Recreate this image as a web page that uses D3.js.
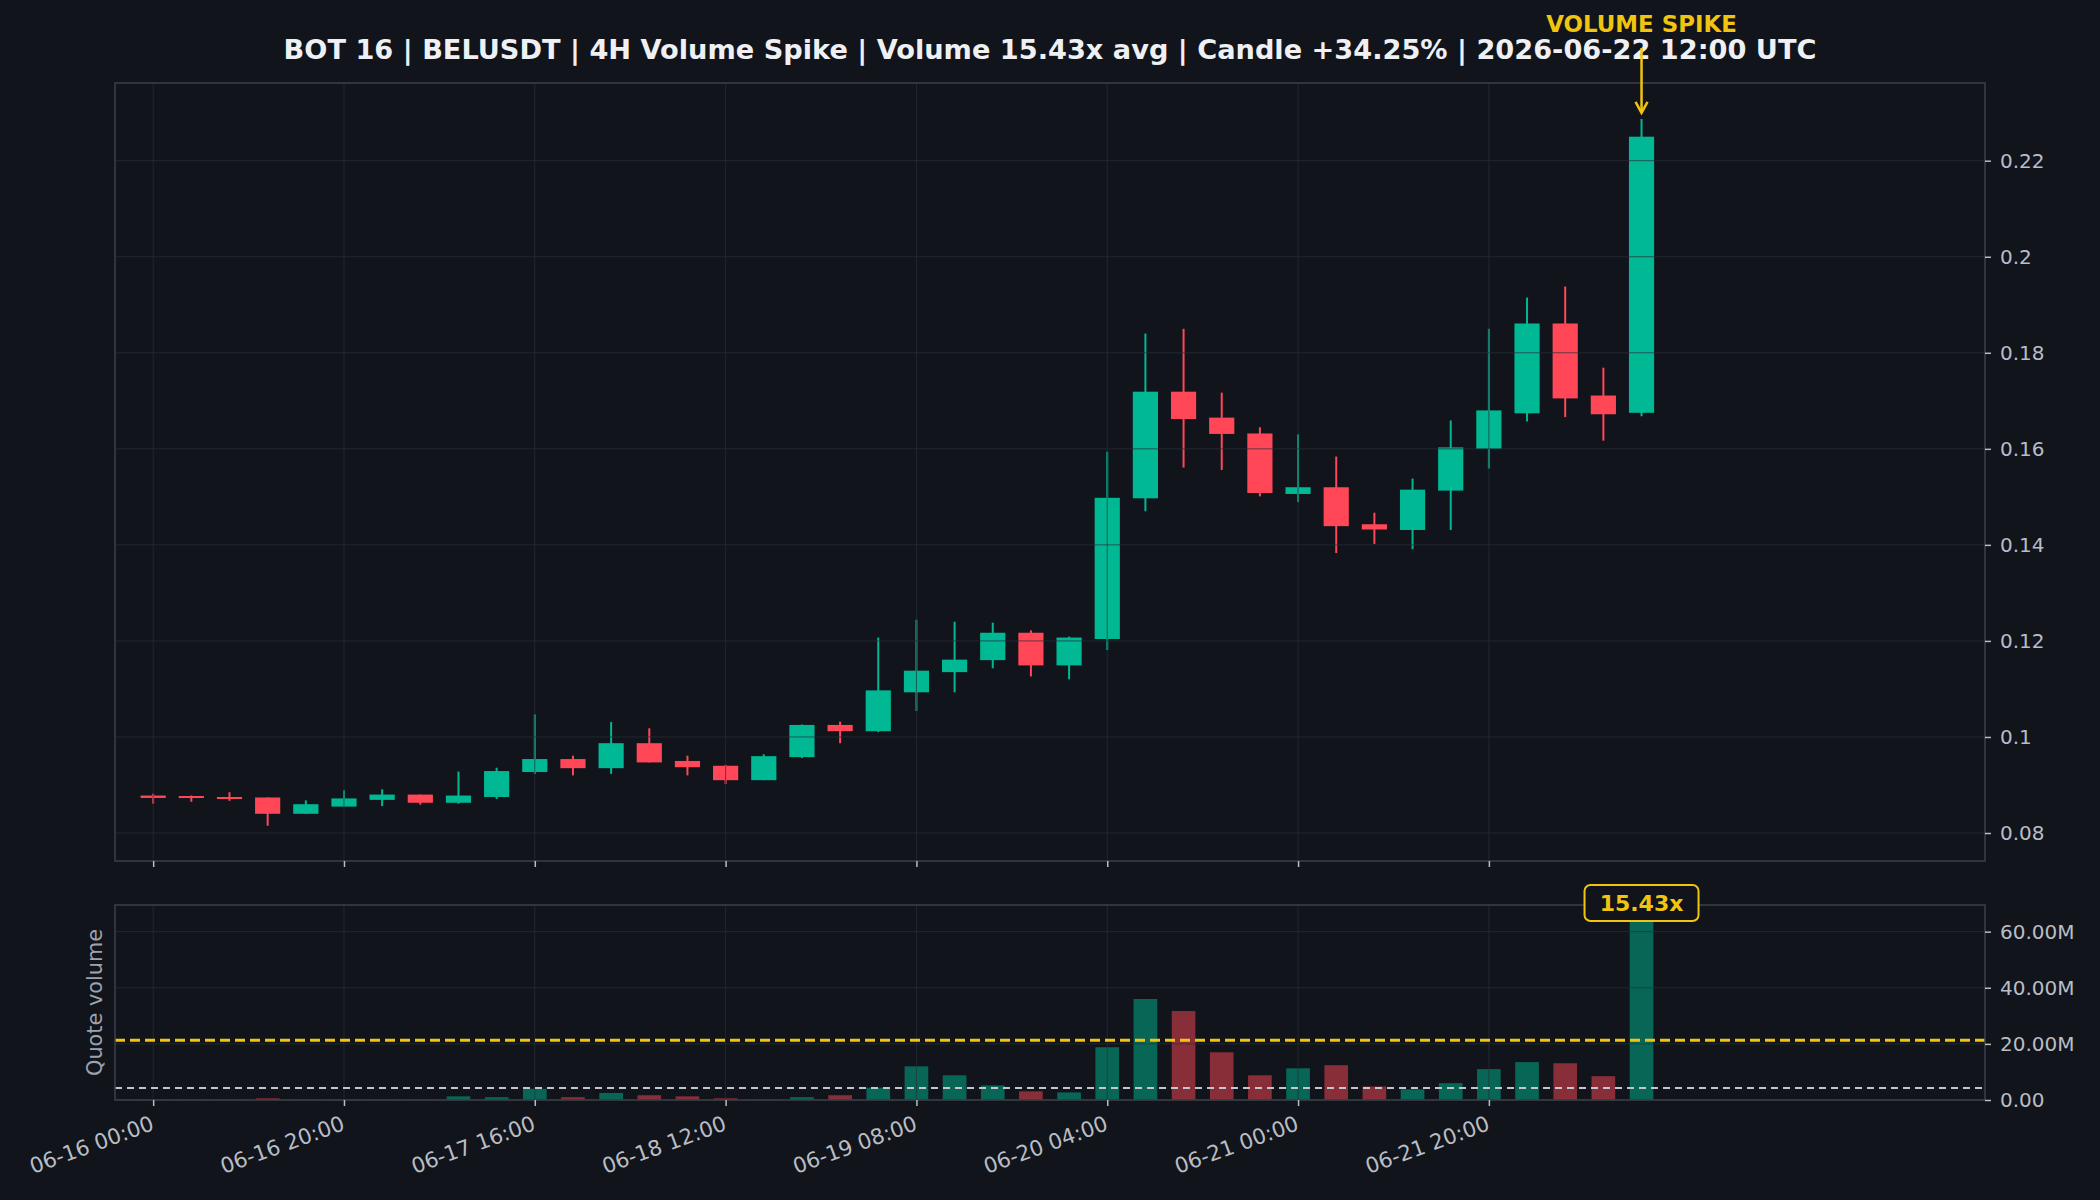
<!DOCTYPE html>
<html>
<head>
<meta charset="utf-8">
<script src="https://cdn.jsdelivr.net/npm/d3@7"></script>
<style>
  body { margin: 0; background: #11141b; }
  svg { display: block; }
  text { font-family: "DejaVu Sans", sans-serif; }
</style>
</head>
<body>
<svg id="chart" width="2100" height="1200"></svg>
<script>
// 4h candles, BELUSDT
var times = [
  "2026-06-16 00:00", "2026-06-16 04:00", "2026-06-16 08:00", "2026-06-16 12:00", "2026-06-16 16:00", "2026-06-16 20:00",
  "2026-06-17 00:00", "2026-06-17 04:00", "2026-06-17 08:00", "2026-06-17 12:00", "2026-06-17 16:00", "2026-06-17 20:00",
  "2026-06-18 00:00", "2026-06-18 04:00", "2026-06-18 08:00", "2026-06-18 12:00", "2026-06-18 16:00", "2026-06-18 20:00",
  "2026-06-19 00:00", "2026-06-19 04:00", "2026-06-19 08:00", "2026-06-19 12:00", "2026-06-19 16:00", "2026-06-19 20:00",
  "2026-06-20 00:00", "2026-06-20 04:00", "2026-06-20 08:00", "2026-06-20 12:00", "2026-06-20 16:00", "2026-06-20 20:00",
  "2026-06-21 00:00", "2026-06-21 04:00", "2026-06-21 08:00", "2026-06-21 12:00", "2026-06-21 16:00", "2026-06-21 20:00",
  "2026-06-22 00:00", "2026-06-22 04:00", "2026-06-22 08:00", "2026-06-22 12:00"
];
var open = [
  0.0878, 0.0877, 0.0875, 0.0874, 0.0840, 0.0855, 0.0869, 0.0880, 0.0863, 0.0875,
  0.0927, 0.0954, 0.0935, 0.0987, 0.0950, 0.0940, 0.0910, 0.0958, 0.1025, 0.1012,
  0.1093, 0.1135, 0.1160, 0.1217, 0.1149, 0.1204, 0.1497, 0.1719, 0.1665, 0.1632,
  0.1506, 0.1520, 0.1443, 0.1431, 0.1513, 0.1600, 0.1674, 0.1861, 0.1711, 0.1675
];
var high = [
  0.0882, 0.0878, 0.0885, 0.0874, 0.0868, 0.0889, 0.0891, 0.0880, 0.0928, 0.0936,
  0.1047, 0.0961, 0.1031, 0.1018, 0.0961, 0.0942, 0.0964, 0.1026, 0.1032, 0.1207,
  0.1244, 0.1240, 0.1238, 0.1222, 0.1209, 0.1594, 0.1840, 0.1850, 0.1717, 0.1645,
  0.1630, 0.1584, 0.1467, 0.1538, 0.1659, 0.1850, 0.1915, 0.1938, 0.1769, 0.2287
];
var low = [
  0.0861, 0.0865, 0.0867, 0.0815, 0.0840, 0.0855, 0.0856, 0.0859, 0.0861, 0.0871,
  0.0923, 0.0920, 0.0923, 0.0947, 0.0920, 0.0902, 0.0910, 0.0956, 0.0987, 0.1010,
  0.1054, 0.1093, 0.1143, 0.1126, 0.1120, 0.1181, 0.1470, 0.1561, 0.1556, 0.1501,
  0.1489, 0.1383, 0.1402, 0.1391, 0.1431, 0.1559, 0.1657, 0.1666, 0.1617, 0.1668
];
var close = [
  0.0873, 0.0873, 0.0871, 0.0840, 0.0860, 0.0872, 0.0880, 0.0863, 0.0878, 0.0929,
  0.0954, 0.0935, 0.0987, 0.0947, 0.0937, 0.0910, 0.0960, 0.1025, 0.1012, 0.1097,
  0.1138, 0.1161, 0.1217, 0.1149, 0.1207, 0.1498, 0.1719, 0.1662, 0.1631, 0.1508,
  0.1520, 0.1439, 0.1432, 0.1515, 0.1603, 0.1680, 0.1861, 0.1705, 0.1672, 0.2250
];
// quote volume, millions
var volume = [
  0.12, 0.10, 0.15, 0.6, 0.1, 0.1, 0.1, 0.1, 1.3, 1.0,
  4.0, 1.0, 2.5, 1.7, 1.3, 0.6, 0.15, 1.0, 1.7, 4.4,
  12.0, 8.8, 5.2, 3.1, 2.7, 18.8, 36.0, 31.7, 17.0, 8.8,
  11.3, 12.4, 4.8, 3.8, 6.0, 11.0, 13.5, 13.1, 8.5, 65.6
];
var avgVolume = 4.26;       // grey dashed line
var thresholdVolume = 21.3; // yellow dashed line
var spikeMultiple = "15.43x";
var xTickLabels = ["06-16 00:00", "06-16 20:00", "06-17 16:00", "06-18 12:00",
                   "06-19 08:00", "06-20 04:00", "06-21 00:00", "06-21 20:00"];
var title = "BOT 16 | BELUSDT | 4H Volume Spike | Volume 15.43x avg | Candle +34.25% | 2026-06-22 12:00 UTC";

var GREEN = "#00b894", RED = "#ff4757", YELLOW = "#f1c40f";
var BG = "#11141b", GRID = "#2a2f38", SPINE = "#3b3f48", TICK = "#b9bdc4";

var parse = d3.utcParse("%Y-%m-%d %H:%M");
var candles = times.map(function(t, i) {
  return { time: parse(t), o: open[i], h: high[i], l: low[i], c: close[i], v: volume[i] };
});
var last = candles[candles.length - 1];

var left = 115, right = 1985;
var main = { top: 83, bottom: 861 };
var vol = { top: 905, bottom: 1100 };

var svg = d3.select("#chart");
svg.append("rect").attr("width", 2100).attr("height", 1200).attr("fill", BG);

var x = d3.scaleUtc()
  .domain([parse("2026-06-15 20:00"), parse("2026-06-24 00:00")])
  .range([left, right]);
var step = x(candles[1].time) - x(candles[0].time);

var y = d3.scaleLinear().domain([0.07417, 0.23618]).range([main.bottom, main.top]);
var yv = d3.scaleLinear().domain([0, 69.5]).range([vol.bottom, vol.top]);

var fmtTime = d3.utcFormat("%m-%d %H:%M");
var tickTimes = candles.map(function(d) { return d.time; })
  .filter(function(t) { return xTickLabels.indexOf(fmtTime(t)) >= 0; });

function drawGrid(g, yScale, yTicks, top, bottom) {
  g.selectAll(".gx").data(tickTimes).enter().append("line")
    .attr("x1", function(d) { return x(d); }).attr("x2", function(d) { return x(d); })
    .attr("y1", top).attr("y2", bottom)
    .attr("stroke", GRID).attr("stroke-opacity", 0.7);
  g.selectAll(".gy").data(yTicks).enter().append("line")
    .attr("x1", left).attr("x2", right)
    .attr("y1", function(d) { return yScale(d); }).attr("y2", function(d) { return yScale(d); })
    .attr("stroke", GRID).attr("stroke-opacity", 0.7);
}

function drawFrame(top, bottom) {
  svg.append("rect")
    .attr("x", left).attr("y", top).attr("width", right - left).attr("height", bottom - top)
    .attr("fill", "none").attr("stroke", SPINE).attr("stroke-width", 1.5);
}

function styleAxis(g) {
  g.select(".domain").remove();
  g.selectAll(".tick line").attr("stroke", TICK).attr("stroke-width", 1.5);
  g.selectAll(".tick text").attr("fill", TICK).attr("font-size", 20)
    .attr("font-family", "DejaVu Sans");
}

// ---- price panel ----
var priceTicks = y.ticks(8);
var gCandles = svg.append("g");
var bw = step * 0.66;

gCandles.selectAll(".wick").data(candles).enter().append("line")
  .attr("x1", function(d) { return x(d.time); }).attr("x2", function(d) { return x(d.time); })
  .attr("y1", function(d) { return y(d.h); }).attr("y2", function(d) { return y(d.l); })
  .attr("stroke", function(d) { return d.c >= d.o ? GREEN : RED; })
  .attr("stroke-width", 2);

gCandles.selectAll(".body").data(candles).enter().append("rect")
  .attr("x", function(d) { return x(d.time) - bw / 2; })
  .attr("width", bw)
  .attr("y", function(d) { return y(Math.max(d.o, d.c)); })
  .attr("height", function(d) { return Math.max(2, Math.abs(y(d.o) - y(d.c))); })
  .attr("fill", function(d) { return d.c >= d.o ? GREEN : RED; });

drawGrid(svg.append("g"), y, priceTicks, main.top, main.bottom);
drawFrame(main.top, main.bottom);

svg.append("g").attr("transform", "translate(" + right + ",0)")
  .call(d3.axisRight(y).tickValues(priceTicks).tickSize(6).tickPadding(9).tickFormat(d3.format("~g")))
  .call(styleAxis);

svg.append("g").attr("transform", "translate(0," + main.bottom + ")")
  .call(d3.axisBottom(x).tickValues(tickTimes).tickSize(6).tickFormat(""))
  .call(styleAxis);

// ---- volume panel ----
var volTicks = [0, 20, 40, 60];
var vbw = step * 0.62;
svg.append("g").selectAll("rect").data(candles).enter().append("rect")
  .attr("x", function(d) { return x(d.time) - vbw / 2; })
  .attr("width", vbw)
  .attr("y", function(d) { return yv(d.v); })
  .attr("height", function(d) { return yv(0) - yv(d.v); })
  .attr("fill", function(d) { return d.c >= d.o ? GREEN : RED; })
  .attr("fill-opacity", 0.5);

drawGrid(svg.append("g"), yv, volTicks, vol.top, vol.bottom);

svg.append("line")
  .attr("x1", left).attr("x2", right)
  .attr("y1", yv(thresholdVolume)).attr("y2", yv(thresholdVolume))
  .attr("stroke", YELLOW).attr("stroke-width", 3).attr("stroke-dasharray", "10,5");
svg.append("line")
  .attr("x1", left).attr("x2", right)
  .attr("y1", yv(avgVolume)).attr("y2", yv(avgVolume))
  .attr("stroke", "#c2c5cc").attr("stroke-width", 2).attr("stroke-dasharray", "7,5");

drawFrame(vol.top, vol.bottom);

svg.append("g").attr("transform", "translate(" + right + ",0)")
  .call(d3.axisRight(yv).tickValues(volTicks).tickSize(6).tickPadding(9)
    .tickFormat(function(d) { return d === 0 ? "0.00" : d.toFixed(2) + "M"; }))
  .call(styleAxis);

var xAxis = svg.append("g").attr("transform", "translate(0," + vol.bottom + ")")
  .call(d3.axisBottom(x).tickValues(tickTimes).tickSize(6).tickFormat(fmtTime))
  .call(styleAxis);
xAxis.selectAll(".tick text")
  .attr("font-size", 21.3)
  .attr("text-anchor", "end")
  .attr("dy", "0.75em")
  .attr("transform", "translate(-7,6) rotate(-20)");

svg.append("text")
  .attr("transform", "translate(95," + ((vol.top + vol.bottom) / 2) + ") rotate(-90)")
  .attr("text-anchor", "middle").attr("dy", "0.35em")
  .attr("fill", "#9ea3ab").attr("font-size", 20.8)
  .text("Quote volume");

// spike ratio badge
var sx = x(last.time);
var badge = svg.append("g").attr("transform", "translate(" + sx + "," + (yv(last.v) - 13) + ")");
badge.append("rect")
  .attr("x", -57).attr("y", -18).attr("width", 114).attr("height", 36).attr("rx", 6)
  .attr("fill", BG).attr("stroke", YELLOW).attr("stroke-width", 2);
badge.append("text")
  .attr("text-anchor", "middle").attr("dy", "0.36em")
  .attr("fill", YELLOW).attr("font-size", 22).attr("font-weight", "bold")
  .text(spikeMultiple);

// ---- title + annotation ----
svg.append("text")
  .attr("x", 1050).attr("y", 59).attr("text-anchor", "middle")
  .attr("fill", "#eef0f3").attr("font-size", 27.2).attr("font-weight", "bold")
  .text(title);

svg.append("text")
  .attr("x", sx).attr("y", 32).attr("text-anchor", "middle")
  .attr("fill", YELLOW).attr("font-size", 22.9).attr("font-weight", "bold")
  .text("VOLUME SPIKE");

var tipY = y(last.h) - 6;
svg.append("line")
  .attr("x1", sx).attr("x2", sx).attr("y1", 48).attr("y2", tipY)
  .attr("stroke", YELLOW).attr("stroke-width", 2.5);
svg.append("path")
  .attr("d", "M" + (sx - 6) + "," + (tipY - 11) + "L" + sx + "," + tipY + "L" + (sx + 6) + "," + (tipY - 11))
  .attr("fill", "none").attr("stroke", YELLOW).attr("stroke-width", 2.5);
</script>
</body>
</html>
